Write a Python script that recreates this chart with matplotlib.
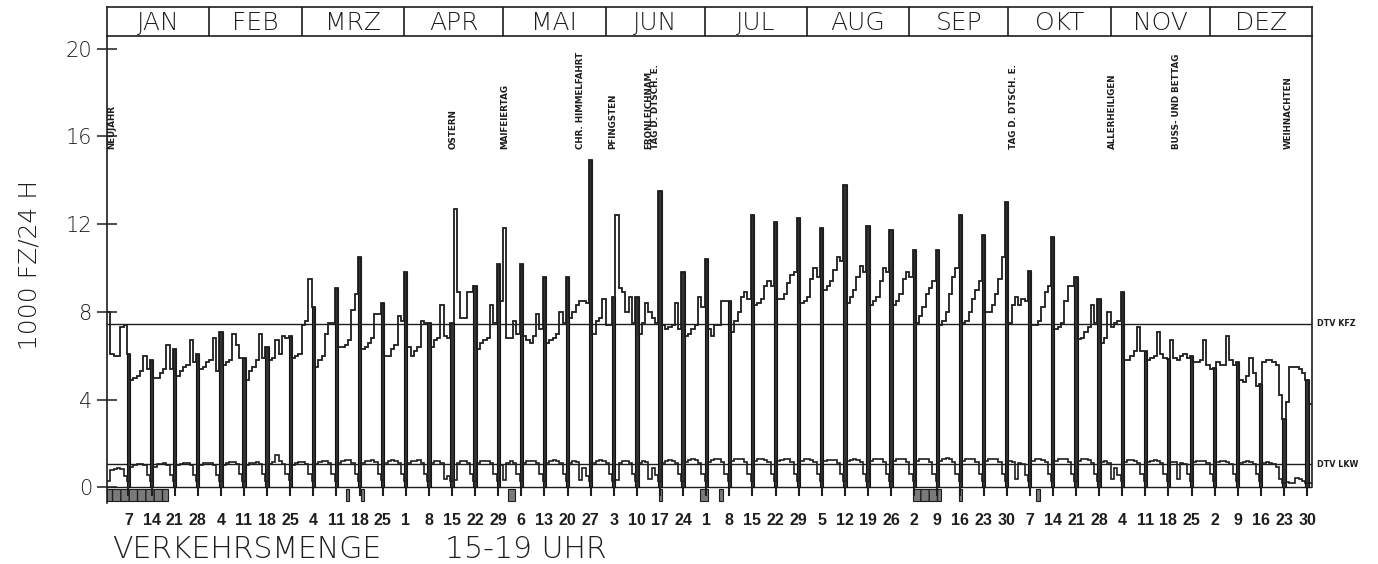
import numpy as np
import matplotlib
matplotlib.use("Agg")
import matplotlib.pyplot as plt
from matplotlib.patches import Rectangle

# Verkehrsmenge 15-19 Uhr, 1000 Fz, Tageswerte (1. Jan = Montag)
months = ["JAN", "FEB", "MRZ", "APR", "MAI", "JUN", "JUL", "AUG", "SEP", "OKT", "NOV", "DEZ"]
month_len = [31, 28, 31, 30, 31, 30, 31, 31, 30, 31, 30, 31]

kfz_jan = [8.0, 6.1, 6.0, 6.0, 7.3, 7.4, 6.1,
           4.9, 5.0, 5.1, 5.3, 6.0, 5.4, 5.8,
           5.0, 5.0, 5.2, 5.4, 6.5, 5.4, 6.3,
           5.1, 5.3, 5.5, 5.6, 6.7, 5.7, 6.1,
           5.4, 5.5, 5.7]
kfz_feb = [5.8, 6.8, 5.3, 7.1,
           5.6, 5.7, 5.8, 7.0, 6.5, 5.9, 5.9,
           4.9, 5.3, 5.5, 5.8, 7.0, 5.9, 6.4,
           5.8, 5.9, 6.7, 6.1, 6.9, 6.8, 6.9,
           5.9, 6.0, 6.1]
kfz_mar = [7.4, 7.6, 9.5, 8.2,
           5.5, 5.8, 6.0, 7.0, 7.5, 7.5, 9.1,
           6.4, 6.4, 6.5, 6.7, 8.1, 8.8, 10.5,
           6.3, 6.4, 6.6, 6.8, 7.9, 7.9, 8.4,
           6.0, 6.0, 6.3, 6.5, 7.8, 7.6]
kfz_apr = [9.8,
           6.4, 6.0, 6.2, 6.4, 7.6, 7.5, 7.5,
           6.4, 6.7, 6.8, 8.3, 6.9, 6.8, 7.5,
           12.7, 8.9, 7.7, 7.7, 8.9, 8.9, 9.2,
           6.3, 6.6, 6.7, 6.8, 8.3, 7.5, 10.2,
           8.5]
kfz_mai = [11.8, 6.8, 6.8, 7.6, 7.0, 10.2,
           6.9, 6.7, 6.6, 6.9, 7.9, 7.2, 9.6,
           6.6, 6.7, 6.8, 7.0, 8.0, 7.5, 9.6,
           7.7, 8.0, 8.3, 8.5, 8.5, 8.4, 14.9,
           7.0, 7.6, 7.7, 8.6]
kfz_jun = [7.4, 7.4, 8.7,
           12.4, 9.1, 8.9, 8.0, 8.7, 7.5, 8.7,
           7.0, 7.5, 8.4, 8.0, 7.7, 7.5, 13.5,
           7.4, 7.2, 7.3, 7.4, 8.4, 7.2, 9.8,
           6.9, 7.0, 7.2, 7.4, 8.7, 8.2]
kfz_jul = [10.4,
           7.2, 6.9, 7.4, 7.4, 8.5, 8.5, 8.5,
           7.1, 7.6, 8.0, 8.7, 8.9, 8.6, 12.4,
           8.3, 8.4, 8.6, 9.2, 9.4, 9.2, 12.1,
           8.6, 8.6, 8.8, 9.3, 9.7, 9.8, 12.3,
           8.4, 8.5]
kfz_aug = [8.7, 9.5, 10.0, 9.6, 11.8,
           9.0, 9.2, 9.4, 9.9, 10.5, 10.3, 13.8,
           8.4, 8.7, 9.0, 9.6, 10.1, 9.8, 11.9,
           8.3, 8.5, 8.7, 9.4, 10.0, 9.8, 11.75,
           8.3, 8.5, 8.8, 9.5, 9.8]
kfz_sep = [9.6, 10.8,
           7.5, 7.8, 8.2, 8.8, 9.1, 9.4, 10.8,
           7.4, 7.6, 8.0, 8.8, 9.6, 10.0, 12.4,
           7.5, 7.6, 8.0, 8.6, 9.0, 9.4, 11.5,
           8.0, 8.0, 8.3, 8.8, 9.5, 10.5, 13.0]
kfz_okt = [7.5, 8.3, 8.7, 8.3, 8.6, 8.5, 9.85,
           7.4, 7.4, 7.6, 8.2, 8.9, 9.2, 11.4,
           7.2, 7.3, 7.5, 8.5, 9.2, 9.2, 9.6,
           6.75, 6.8, 7.1, 7.3, 8.3, 7.5, 8.6,
           6.6, 6.8, 8.0]
kfz_nov = [7.3, 7.5, 7.6, 8.9,
           5.8, 5.8, 6.0, 6.2, 7.3, 6.2, 6.2,
           5.8, 5.9, 6.0, 7.1, 6.1, 5.9, 5.85,
           6.7, 5.9, 5.8, 6.0, 6.1, 5.9, 6.0,
           5.7, 5.7, 5.8, 6.7, 5.6]
kfz_dez = [5.4, 5.45,
           5.7, 5.6, 5.6, 6.9, 5.8, 5.6, 5.7,
           4.9, 4.8, 5.1, 5.9, 5.2, 4.6, 4.7,
           5.7, 5.8, 5.8, 5.7, 5.6, 4.2, 3.1,
           3.9, 5.5, 5.5, 5.5, 5.4, 5.2, 4.9,
           3.8]

lkw_jan = [0.3, 0.8, 0.85, 0.9, 0.85, 0.5, 0.3,
           0.95, 1.0, 1.05, 1.05, 1.0, 0.55, 0.3,
           0.95, 1.05, 1.05, 1.1, 1.0, 0.55, 0.3,
           1.0, 1.05, 1.1, 1.1, 1.0, 0.55, 0.3,
           1.0, 1.1, 1.1]
lkw_feb = [1.1, 1.0, 0.55, 0.3,
           1.0, 1.1, 1.15, 1.15, 1.05, 0.6, 0.3,
           1.0, 1.1, 1.1, 1.15, 1.05, 0.6, 0.3,
           1.05, 1.15, 1.5, 1.2, 1.05, 0.6, 0.35,
           1.0, 1.1, 1.15]
lkw_mar = [1.15, 1.05, 0.6, 0.3,
           1.05, 1.15, 1.2, 1.2, 1.1, 0.6, 0.3,
           1.1, 1.2, 1.25, 1.25, 1.1, 0.6, 0.3,
           1.1, 1.2, 1.2, 1.25, 1.15, 0.6, 0.35,
           1.1, 1.2, 1.25, 1.2, 1.1, 0.6]
lkw_apr = [0.3,
           1.1, 1.2, 1.2, 1.25, 1.1, 0.6, 0.3,
           1.1, 1.2, 1.2, 1.1, 0.4, 0.5, 0.3,
           0.35, 1.1, 1.2, 1.2, 1.1, 0.6, 0.3,
           1.1, 1.2, 1.2, 1.2, 1.1, 0.6, 0.3,
           1.0]
lkw_mai = [0.35, 1.1, 1.2, 1.1, 0.6, 0.3,
           1.1, 1.2, 1.2, 1.2, 1.1, 0.6, 0.3,
           1.1, 1.2, 1.25, 1.2, 1.1, 0.6, 0.3,
           1.1, 1.2, 1.15, 0.35, 0.9, 0.5, 0.3,
           1.1, 1.2, 1.25, 1.2]
lkw_jun = [1.1, 0.6, 0.3,
           0.35, 1.1, 1.2, 1.2, 1.1, 0.6, 0.3,
           1.1, 1.2, 1.15, 0.4, 0.9, 0.55, 0.3,
           1.1, 1.2, 1.25, 1.2, 1.1, 0.6, 0.3,
           1.15, 1.25, 1.3, 1.25, 1.1, 0.6]
lkw_jul = [0.3,
           1.15, 1.25, 1.3, 1.3, 1.15, 0.6, 0.3,
           1.2, 1.3, 1.3, 1.3, 1.15, 0.6, 0.3,
           1.2, 1.3, 1.3, 1.25, 1.15, 0.6, 0.3,
           1.2, 1.25, 1.3, 1.3, 1.15, 0.6, 0.3,
           1.2, 1.3]
lkw_aug = [1.3, 1.25, 1.15, 0.6, 0.3,
           1.2, 1.25, 1.25, 1.25, 1.1, 0.6, 0.3,
           1.2, 1.25, 1.3, 1.25, 1.15, 0.6, 0.3,
           1.2, 1.3, 1.3, 1.3, 1.15, 0.6, 0.3,
           1.2, 1.3, 1.3, 1.3, 1.15]
lkw_sep = [0.6, 0.3,
           1.2, 1.3, 1.3, 1.3, 1.15, 0.6, 0.3,
           1.2, 1.3, 1.35, 1.3, 1.15, 0.6, 0.3,
           1.2, 1.3, 1.3, 1.3, 1.15, 0.6, 0.3,
           1.2, 1.3, 1.3, 1.3, 1.15, 0.6, 0.3]
lkw_okt = [1.2, 1.15, 0.4, 1.1, 1.05, 0.55, 0.3,
           1.2, 1.3, 1.3, 1.25, 1.15, 0.6, 0.3,
           1.2, 1.3, 1.3, 1.3, 1.15, 0.6, 0.3,
           1.2, 1.3, 1.3, 1.25, 1.1, 0.6, 0.3,
           1.15, 1.2, 1.1]
lkw_nov = [0.4, 0.9, 0.55, 0.3,
           1.15, 1.25, 1.25, 1.2, 1.1, 0.6, 0.3,
           1.15, 1.2, 1.25, 1.2, 1.1, 0.6, 0.3,
           1.15, 1.15, 0.4, 1.1, 1.05, 0.6, 0.3,
           1.15, 1.2, 1.2, 1.2, 1.1]
lkw_dez = [0.6, 0.3,
           1.15, 1.2, 1.2, 1.15, 1.05, 0.6, 0.3,
           1.1, 1.15, 1.2, 1.15, 1.05, 0.6, 0.3,
           1.1, 1.15, 1.1, 1.05, 0.95, 0.4, 0.2,
           0.25, 0.2, 0.2, 0.45, 0.4, 0.3, 0.2,
           0.2]

dtv_kfz = 7.45
dtv_lkw = 1.05

# Datumsbeschriftung der Sonntage
sunday_labels = [7, 14, 21, 28, 4, 11, 18, 25, 4, 11, 18, 25, 1, 8, 15, 22, 29,
                 6, 13, 20, 27, 3, 10, 17, 24, 1, 8, 15, 22, 29, 5, 12, 19, 26,
                 2, 9, 16, 23, 30, 7, 14, 21, 28, 4, 11, 18, 25, 2, 9, 16, 23, 30]

holiday_names = ["NEUJAHR", "OSTERN", "MAIFEIERTAG", "CHR. HIMMELFAHRT", "PFINGSTEN",
                 "FRONLEICHNAM", "TAG D. DTSCH. E.", "TAG D. DTSCH. E.",
                 "ALLERHEILIGEN", "BUSS- UND BETTAG", "WEIHNACHTEN"]
holiday_days = [0.9, 104.3, 120.1, 142.8, 152.6, 163.6, 165.6, 274.0, 304.0, 323.6, 357.2]

# Markierungen unter der Nulllinie (Tag von, Tag bis)
mark_start = [0, 72.3, 76.8, 121.5, 167.2, 179.5, 185.5, 244, 258, 281.5]
mark_end = [18.5, 73.3, 77.8, 123.5, 168.2, 182, 186.5, 252.5, 259, 282.5]

kfz = np.array(kfz_jan + kfz_feb + kfz_mar + kfz_apr + kfz_mai + kfz_jun +
               kfz_jul + kfz_aug + kfz_sep + kfz_okt + kfz_nov + kfz_dez)
lkw = np.array(lkw_jan + lkw_feb + lkw_mar + lkw_apr + lkw_mai + lkw_jun +
               lkw_jul + lkw_aug + lkw_sep + lkw_okt + lkw_nov + lkw_dez)
ndays = len(kfz)
days = np.arange(ndays)
sundays = days[days % 7 == 6]

W, H = 1378, 564
fig = plt.figure(figsize=(W / 100, H / 100), dpi=100)
thin = dict(family="DejaVu Sans", weight="light")
ink = "#1e1e1e"

ax_top, ax_bot = 35.8, 503.0
ax = fig.add_axes([107 / W, 1 - ax_bot / H, 1205 / W, (ax_bot - ax_top) / H])
ax.set_xlim(0, ndays)
ax.set_ylim(-0.71, 20.58)

# Sonntagsbalken
ax.bar(sundays + 0.5, kfz[sundays], width=1.0, color="#333333", edgecolor="#111111",
       linewidth=0.8, zorder=2)
ax.stairs(kfz, np.arange(ndays + 1), baseline=None, color=ink, lw=1.3, zorder=3)
ax.stairs(lkw, np.arange(ndays + 1), baseline=None, color=ink, lw=1.2, zorder=3)

ax.axhline(dtv_kfz, color=ink, lw=1.0, zorder=1)
ax.axhline(dtv_lkw, color=ink, lw=1.0, zorder=1)
ax.axhline(0, color=ink, lw=1.0, zorder=1)
ax.vlines(sundays + 0.5, -0.38, 0, color=ink, lw=1.5)

for a, b in zip(mark_start, mark_end):
    ax.add_patch(Rectangle((a, -0.62), b - a, 0.56, facecolor="#7a7a7a",
                           edgecolor=ink, lw=0.8, hatch="||" if b - a > 5 else None,
                           clip_on=False))

for name, d in zip(holiday_names, holiday_days):
    ax.text(d + 0.5, 15.4, name, rotation=90, ha="center", va="bottom",
            fontsize=6.3, fontweight="bold", family="DejaVu Sans", color=ink)

ax.text(ndays + 1.5, dtv_kfz, "DTV KFZ", fontsize=5.8, fontweight="bold",
        va="center", ha="left", color=ink, clip_on=False)
ax.text(ndays + 1.5, dtv_lkw, "DTV LKW", fontsize=5.8, fontweight="bold",
        va="center", ha="left", color=ink, clip_on=False)

for s in ["top", "bottom"]:
    ax.spines[s].set_visible(False)
ax.spines["left"].set_linewidth(1.2)
ax.spines["left"].set_color(ink)
ax.spines["right"].set_linewidth(1.2)
ax.spines["right"].set_color(ink)
ax.spines["right"].set_bounds(0, 20.58)

ax.set_yticks([0, 4, 8, 12, 16, 20])
ax.set_yticklabels(["0", "4", "8", "12", "16", "20"], fontsize=15, **thin)
ax.tick_params(axis="y", direction="inout", length=15, width=1.1, pad=3, colors=ink)
ax.set_xticks(sundays + 0.5)
ax.set_xticklabels([str(v) for v in sunday_labels], fontsize=11.5,
                   family="Liberation Sans", fontweight="bold")
ax.tick_params(axis="x", length=0, pad=7, colors=ink)

# Monatskopf
hax = fig.add_axes([107 / W, 1 - ax_top / H, 1205 / W, (ax_top - 6.5) / H])
hax.set_xlim(0, ndays)
hax.set_ylim(0, 1)
hax.set_xticks([])
hax.set_yticks([])
for s in hax.spines.values():
    s.set_linewidth(1.2)
    s.set_color(ink)
edges = np.cumsum([0] + month_len)
for e in edges[1:-1]:
    hax.axvline(e, color=ink, lw=1.2)
for i, m in enumerate(months):
    hax.text((edges[i] + edges[i + 1]) / 2, 0.45, m, ha="center", va="center",
             fontsize=18, color=ink, **thin)

fig.text(30 / W, 1 - 265 / H, "1000 FZ/24 H", rotation=90, ha="center", va="center",
         fontsize=18, color=ink, **thin)
fig.text(112 / W, 1 - 549 / H, "VERKEHRSMENGE", ha="left", va="center",
         fontsize=21.5, color=ink, **thin)
fig.text(445 / W, 1 - 549 / H, "15-19 UHR", ha="left", va="center",
         fontsize=21.5, color=ink, **thin)

fig.savefig("out.png", dpi=100)
